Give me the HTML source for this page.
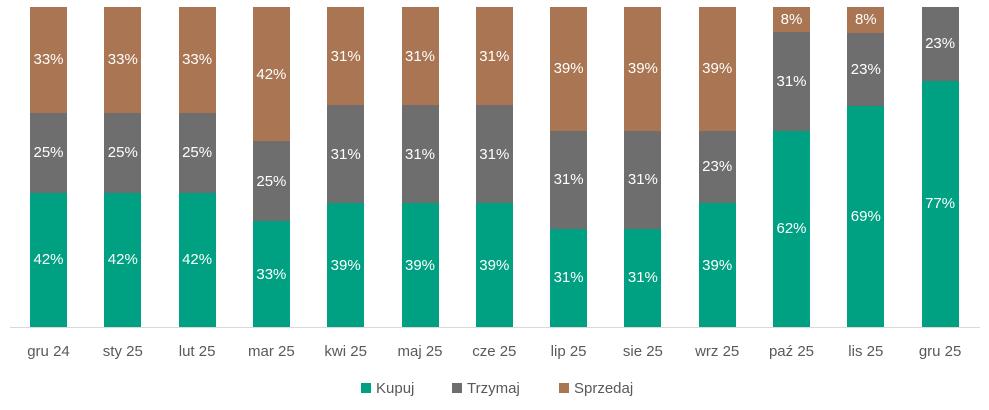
<!DOCTYPE html>
<html><head><meta charset="utf-8"><style>
body{margin:0;width:989px;height:410px;background:#fff;position:relative;overflow:hidden;font-family:"Liberation Sans",sans-serif}
.s{position:absolute;width:37px;color:#fff;font-size:15px;display:flex;align-items:center;justify-content:center}
.x{position:absolute;top:343px;width:80px;text-align:center;font-size:15px;color:#595959}
.lg{position:absolute;top:380px;font-size:15px;color:#595959}
.sq{position:absolute;top:383px;width:10px;height:10px}
</style></head><body>
<div style="position:absolute;left:10px;top:327px;width:970px;height:1px;background:#d9d9d9"></div>
<div id="c"></div>
<div class="sq" style="left:361px;background:#00A082"></div><div class="lg" style="left:376px">Kupuj</div>
<div class="sq" style="left:452px;background:#6E6E6E"></div><div class="lg" style="left:467px">Trzymaj</div>
<div class="sq" style="left:559px;background:#A97552"></div><div class="lg" style="left:574px">Sprzedaj</div>
<script>
var d=[["gru 24",42,25,33],["sty 25",42,25,33],["lut 25",42,25,33],["mar 25",33,25,42],["kwi 25",39,31,31],["maj 25",39,31,31],["cze 25",39,31,31],["lip 25",31,31,39],["sie 25",31,31,39],["wrz 25",39,23,39],["paź 25",62,31,8],["lis 25",69,23,8],["gru 25",77,23,0]];
var col=["#00A082","#6E6E6E","#A97552"],h="";
d.forEach(function(r,i){var x=30+i*74.3,sum=r[1]+r[2]+r[3],y=327;
for(var k=0;k<3;k++){var v=r[k+1];if(!v)continue;var hh=v/sum*320;y-=hh;
h+='<div class="s" style="left:'+x+'px;top:'+y+'px;height:'+hh+'px;background:'+col[k]+'">'+v+'%</div>';}
h+='<div class="x" style="left:'+(x-21.5)+'px">'+r[0]+'</div>';});
document.getElementById("c").innerHTML=h;
</script>
</body></html>
